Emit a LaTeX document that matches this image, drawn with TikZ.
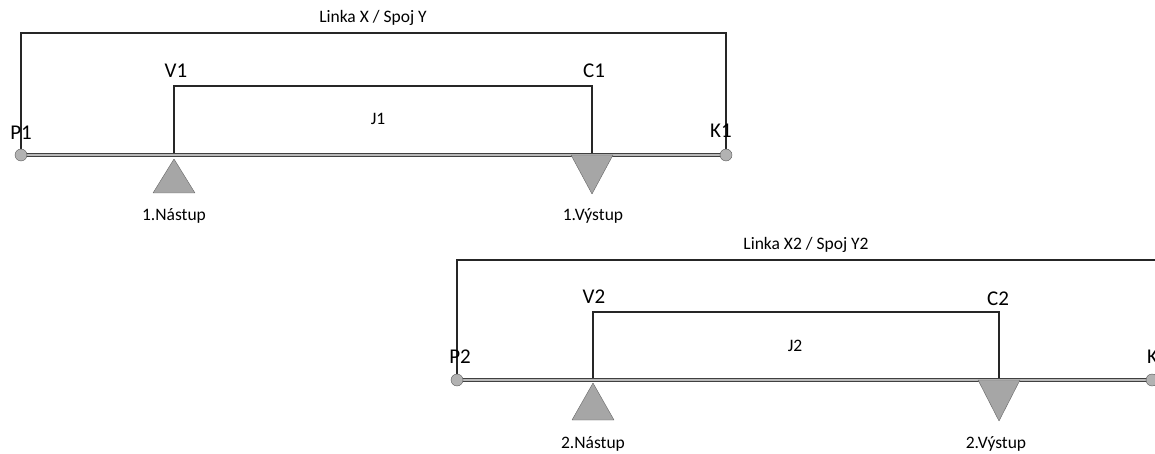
\documentclass[tikz,border=0pt]{standalone}
\usepackage{fontspec}
\setmainfont{Carlito}
\begin{document}
\begin{tikzpicture}[x=1pt,y=-1pt,
  route/.style={black!85, line width=1.1pt},
  trunk/.style={draw=black!75, line width=1pt, double=gray!55, double distance=1.8pt},
  endpt/.style={circle, draw=black!65, fill=gray!60, minimum size=12pt, inner sep=0pt},
  board/.style={draw=black!60, fill=gray!70, line join=round},
  pointlbl/.style={inner sep=0pt, font=\fontsize{21}{24}\selectfont},
  smalllbl/.style={inner sep=0pt, font=\fontsize{17.5}{20}\selectfont}]

\useasboundingbox (0,0) rectangle (1155,454);

% Spoj 1
\coordinate (P1) at (21,155);
\coordinate (K1) at (726,155);
\coordinate (V1) at (174,155);
\coordinate (C1) at (592,155);

\draw[route] (P1) -- ++(0,-122) -| (K1);
\draw[route] (V1) -- ++(0,-69) -| (C1);
\draw[trunk] (P1) -- (K1);
\node[endpt] (P1dot) at (P1) {};
\node[endpt] (K1dot) at (K1) {};

\draw[board] (V1) ++(0,4) -- ++(-21,34) -- ++(42,0) -- cycle;
\draw[board] (C1) ++(-21,0) -- ++(42,0) -- ++(-21,39) -- cycle;

\node[smalllbl] (linka1) at (373,18) {Linka X / Spoj Y};
\node[pointlbl] (lblP1) at (21,133) {P1};
\node[pointlbl] (lblK1) at (721,131) {K1};
\node[pointlbl] (lblV1) at (176,71) {V1};
\node[pointlbl] (lblC1) at (594,71) {C1};
\node[smalllbl] (lblJ1) at (378,119) {J1};
\node[smalllbl] (nastup1) at (174,216) {1.Nástup};
\node[smalllbl] (vystup1) at (593,216) {1.Výstup};

% Spoj 2
\coordinate (P2) at (457,380);
\coordinate (K2) at (1152,380);
\coordinate (V2) at (593,380);
\coordinate (C2) at (999,380);

\draw[route] (P2) -- ++(0,-120) -- ++(720,0);
\draw[route] (V2) -- ++(0,-68) -| (C2);
\draw[trunk] (P2) -- (K2);
\node[endpt] (P2dot) at (P2) {};
\node[endpt] (K2dot) at (K2) {};

\draw[board] (V2) ++(0,3) -- ++(-21,37) -- ++(42,0) -- cycle;
\draw[board] (C2) ++(-21,0) -- ++(42,0) -- ++(-21,41) -- cycle;

\node[smalllbl] (linka2) at (806,245) {Linka X2 / Spoj Y2};
\node[pointlbl] (lblP2) at (460,357) {P2};
\node[pointlbl] (lblK2) at (1158,357) {K2};
\node[pointlbl] (lblV2) at (594,297) {V2};
\node[pointlbl] (lblC2) at (998,299) {C2};
\node[smalllbl] (lblJ2) at (795,346) {J2};
\node[smalllbl] (nastup2) at (593,444) {2.Nástup};
\node[smalllbl] (vystup2) at (996,444) {2.Výstup};

\end{tikzpicture}
\end{document}
